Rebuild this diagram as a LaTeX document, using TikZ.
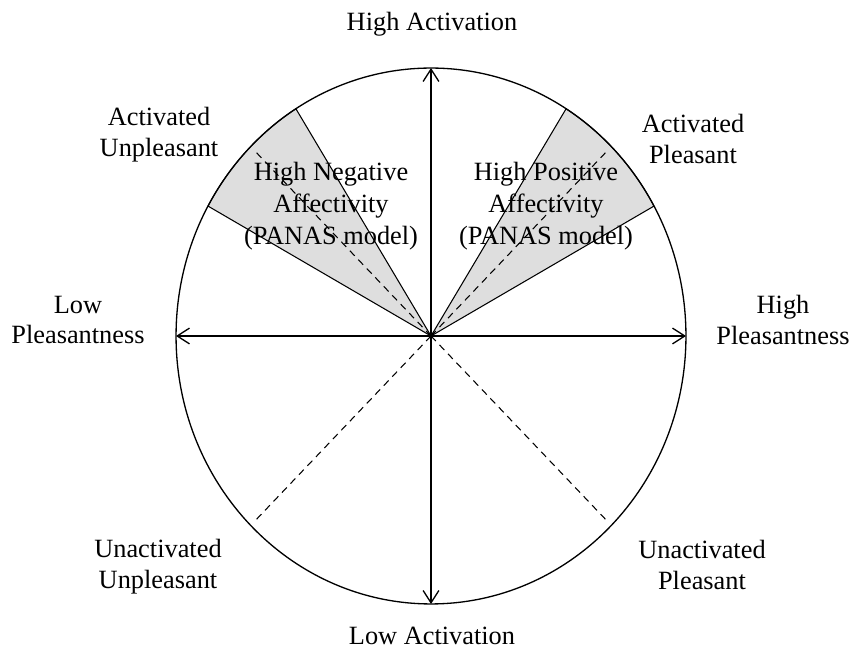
\documentclass[tikz,border=0pt]{standalone}
\usepackage{fontspec}
\setmainfont{Liberation Serif}
\usetikzlibrary{arrows.meta,calc}
\definecolor{wedgegray}{HTML}{DEDEDE}
\tikzset{
  lbl/.style={align=center,font=\fontsize{15}{17.5}\selectfont,inner sep=0pt},
  axis/.style={line width=0.75pt,{Straight Barb[length=7pt,width=9pt]}-{Straight Barb[length=7pt,width=9pt]}},
  sector/.style={fill=wedgegray,draw=black,line width=0.6pt},
  diag/.style={dashed,line width=0.6pt,dash pattern=on 4pt off 3pt}
}
\begin{document}
\begin{tikzpicture}[x=0.02cm,y=0.02cm]
  \useasboundingbox (0,0) rectangle (852,652);
  \coordinate (O) at (431,316);

  % shaded sectors
  \filldraw[sector] (O) -- ($(O)+(122:5.1cm and 5.36cm)$)
    arc [start angle=122, end angle=151, x radius=5.1cm, y radius=5.36cm] -- cycle;
  \filldraw[sector] (O) -- ($(O)+(29:5.1cm and 5.36cm)$)
    arc [start angle=29, end angle=58, x radius=5.1cm, y radius=5.36cm] -- cycle;

  % outer ring
  \draw[line width=0.75pt] (O) ellipse [x radius=5.1cm, y radius=5.36cm];

  % dashed diagonals
  \foreach \a in {45,135,225,315}
    \draw[diag] (O) -- ($(O)+(\a:4.95cm and 5.2cm)$);

  % axes
  \coordinate (N) at ($(O)+(0,268)$);
  \coordinate (S) at ($(O)+(0,-268)$);
  \coordinate (W) at ($(O)+(-255,0)$);
  \coordinate (E) at ($(O)+(255,0)$);
  \draw[axis] (N) -- (S);
  \draw[axis] (W) -- (E);

  % labels
  \node[lbl] (highact) at (432,628) {High Activation};
  \node[lbl] (lowact) at (432,16) {Low Activation};
  \node[lbl] (lowpl) at (78,332) {Low\\Pleasantness};
  \node[lbl] (highpl) at (783,332) {High\\Pleasantness};
  \node[lbl] (actunpl) at (159,517) {Activated\\Unpleasant};
  \node[lbl] (actpl) at (693,513) {Activated\\Pleasant};
  \node[lbl] (unactunpl) at (158,85) {Unactivated\\Unpleasant};
  \node[lbl] (unactpl) at (702,87) {Unactivated\\Pleasant};
  \node[lbl,font=\fontsize{15}{18.2}\selectfont] (hna) at (331,446) {High Negative\\Affectivity\\(PANAS model)};
  \node[lbl,font=\fontsize{15}{18.2}\selectfont] (hpa) at (546,446) {High Positive\\Affectivity\\(PANAS model)};
\end{tikzpicture}
\end{document}
